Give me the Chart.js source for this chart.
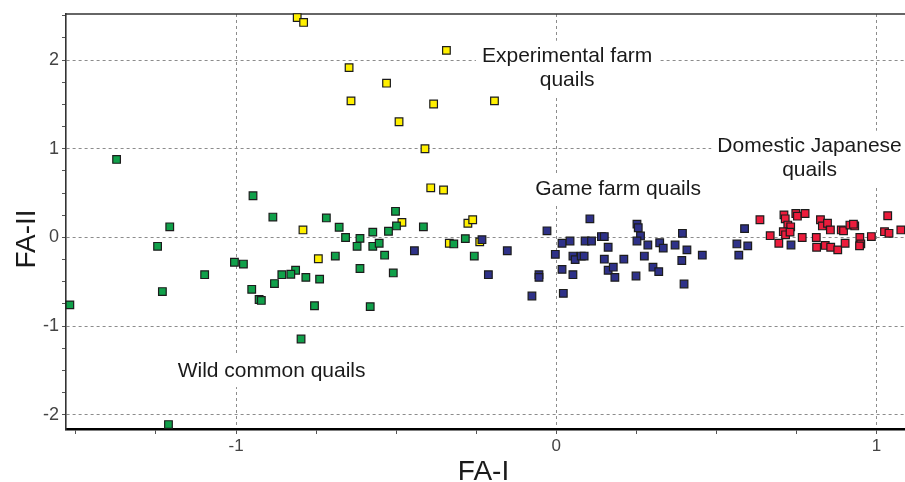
<!DOCTYPE html>
<html>
<head>
<meta charset="utf-8">
<script src="https://cdn.jsdelivr.net/npm/chart.js@4.4.0/dist/chart.umd.min.js"></script>
<style>
  html, body { margin: 0; padding: 0; background: #fff; }
  #wrap { width: 905px; height: 482px; position: relative; }
</style>
</head>
<body>
<div id="wrap"><canvas id="faChart"></canvas></div>
<script>
// FA-I / FA-II scores, one [FA-I, FA-II] pair per bird
const wildCommon = [
  [-1.373, 0.88], [-1.207, 0.12], [-1.245, -0.10], [-1.005, -0.28], [-1.098, -0.42],
  [-1.230, -0.61], [-1.519, -0.76], [-0.947, 0.47], [-0.885, 0.23], [-0.718, 0.22],
  [-0.678, 0.115], [-0.658, 0.0], [-0.613, -0.01], [-0.622, -0.10], [-0.573, 0.06],
  [-0.573, -0.10], [-0.553, -0.065], [-0.524, 0.07], [-0.502, 0.295], [-0.499, 0.13],
  [-0.415, 0.12], [-0.536, -0.20], [-0.690, -0.21], [-0.977, -0.30], [-0.613, -0.35],
  [-0.509, -0.40], [-0.814, -0.37], [-0.829, -0.415], [-0.857, -0.42], [-0.782, -0.45],
  [-0.739, -0.47], [-0.880, -0.52], [-0.951, -0.585], [-0.928, -0.70], [-0.921, -0.71],
  [-0.755, -0.77], [-0.581, -0.78], [-0.797, -1.145], [-0.320, -0.073], [-0.284, -0.013],
  [-0.256, -0.21], [-1.211, -2.11]
];
const experimentalFarm = [
  [-0.809, 2.48], [-0.789, 2.425], [-0.343, 2.11], [-0.647, 1.915], [-0.530, 1.74],
  [-0.641, 1.54], [-0.383, 1.505], [-0.193, 1.54], [-0.491, 1.305], [-0.410, 1.0],
  [-0.392, 0.56], [-0.352, 0.535], [-0.791, 0.085], [-0.482, 0.17], [-0.276, 0.16],
  [-0.261, 0.20], [-0.334, -0.065], [-0.239, -0.05], [-0.743, -0.24]
];
const gameFarm = [
  [-0.443, -0.15], [-0.232, -0.025], [-0.153, -0.15], [-0.212, -0.42], [-0.029, 0.075],
  [-0.054, -0.42], [-0.054, -0.45], [-0.076, -0.66], [-0.003, -0.19], [0.018, -0.065],
  [0.043, -0.04], [0.018, -0.36], [0.022, -0.63], [0.052, -0.21], [0.059, -0.25],
  [0.078, -0.21], [0.087, -0.21], [0.052, -0.42], [0.090, -0.04], [0.110, -0.04],
  [0.105, 0.21], [0.141, 0.01], [0.150, 0.01], [0.162, -0.11], [0.150, -0.245],
  [0.162, -0.37], [0.178, -0.335], [0.183, -0.45], [0.211, -0.245], [0.252, 0.15],
  [0.256, 0.11], [0.263, 0.017], [0.252, -0.04], [0.286, -0.085], [0.275, -0.21],
  [0.249, -0.435], [0.323, -0.06], [0.334, -0.12], [0.302, -0.335], [0.320, -0.385],
  [0.371, -0.085], [0.394, 0.047], [0.408, -0.14], [0.392, -0.26], [0.399, -0.525],
  [0.456, -0.20], [0.588, 0.10], [0.564, -0.073], [0.570, -0.20], [0.598, -0.095],
  [0.733, -0.085]
];
const domesticJapanese = [
  [0.636, 0.20], [0.668, 0.02], [0.695, -0.065], [0.711, 0.255], [0.715, 0.21],
  [0.723, 0.14], [0.732, 0.12], [0.709, 0.065], [0.716, 0.03], [0.730, 0.06],
  [0.748, 0.27], [0.753, 0.24], [0.777, 0.27], [0.768, 0.0], [0.812, 0.0],
  [0.813, -0.11], [0.825, 0.20], [0.831, 0.13], [0.847, 0.16], [0.856, 0.085],
  [0.840, -0.09], [0.857, -0.11], [0.879, -0.14], [0.890, 0.085], [0.897, 0.075],
  [0.917, 0.14], [0.932, 0.13], [0.928, 0.15], [0.902, -0.065], [0.948, 0.0],
  [0.951, -0.073], [0.947, -0.095], [0.984, 0.01], [1.025, 0.065], [1.039, 0.047],
  [1.035, 0.245], [1.076, 0.085]
];

const xTickLabels = [-1, 0, 1];
const yTickLabels = [-2, -1, 0, 1, 2];

// group names written in the plot, and where they sit (FA-I, FA-II of first baseline)
const groupNames = [
  ['Experimental farm', 'quails'],
  ['Domestic Japanese', 'quails'],
  ['Game farm quails'],
  ['Wild common quails']
];
const groupSpots = [[0.034, 1.982], [0.791, 0.967], [0.193, 0.479], [-0.889, -1.569]];

const labelFont = '"Liberation Sans", Arial, sans-serif';

const groupLabels = {
  id: 'groupLabels',
  beforeDatasetsDraw(chart) {
    const {ctx, chartArea, scales} = chart;
    ctx.save();
    // top frame line
    ctx.strokeStyle = '#333';
    ctx.lineWidth = 1.6;
    ctx.beginPath();
    ctx.moveTo(chartArea.left, chartArea.top);
    ctx.lineTo(chartArea.right, chartArea.top);
    ctx.stroke();

    ctx.font = '21px ' + labelFont;
    ctx.textAlign = 'center';
    ctx.textBaseline = 'alphabetic';
    groupNames.forEach((lines, i) => {
      const px = scales.x.getPixelForValue(groupSpots[i][0]);
      const py = scales.y.getPixelForValue(groupSpots[i][1]);
      const w = Math.max(...lines.map(t => ctx.measureText(t).width));
      const top = py - 15 - 6;
      const bottom = py + (lines.length - 1) * 24.3 + 4.5 + 6;
      ctx.fillStyle = '#fff';
      ctx.fillRect(px - w / 2 - 6, top, w + 12, bottom - top);
      ctx.fillStyle = '#1a1a1a';
      lines.forEach((t, k) => ctx.fillText(t, px, py + k * 24.3));
    });
    ctx.restore();
  },
  afterDraw(chart) {
    const ctx = chart.ctx;
    ctx.save();
    ctx.fillStyle = '#1a1a1a';
    ctx.font = '28px ' + labelFont;
    ctx.textAlign = 'center';
    ctx.textBaseline = 'alphabetic';
    ctx.fillText('FA-I', 483.5, 480);
    ctx.translate(34.5, 239);
    ctx.rotate(-Math.PI / 2);
    ctx.fillText('FA-II', 0, 0);
    ctx.restore();
  }
};

function groupSet(label, points, color) {
  return {
    label: label,
    data: points,
    pointStyle: 'rect',
    pointRadius: 5.4,
    pointHoverRadius: 5.4,
    backgroundColor: color,
    borderColor: '#1c1c1c',
    borderWidth: 1.2,
    clip: false
  };
}

const ctx = document.getElementById('faChart').getContext('2d');
const faChart = new Chart(ctx, {
  type: 'scatter',
  data: {
    datasets: [
      groupSet('Domestic Japanese quails', domesticJapanese, '#ec1c3c'),
      groupSet('Game farm quails', gameFarm, '#2e3188'),
      groupSet('Wild common quails', wildCommon, '#10a04a'),
      groupSet('Experimental farm quails', experimentalFarm, '#fff000')
    ]
  },
  options: {
    responsive: true,
    maintainAspectRatio: false,
    animation: false,
    layout: { autoPadding: false, padding: { top: 14, left: 0, right: 0, bottom: 0 } },
    plugins: {
      legend: { display: false },
      tooltip: { enabled: false }
    },
    scales: {
      x: {
        type: 'linear',
        min: -1.531,
        max: 1.089,
        afterFit: s => { s.height = 53; s.paddingLeft = 0; s.paddingRight = 0; },
        ticks: {
          stepSize: 0.25,
          includeBounds: false,
          autoSkip: false,
          maxRotation: 0,
          padding: 2,
          color: '#444',
          font: { family: labelFont, size: 17 },
          callback: v => xTickLabels.includes(v) ? String(v) : ''
        },
        grid: {
          color: c => (c.tick && xTickLabels.includes(c.tick.value)) ? '#8c8c8c' : 'rgba(0,0,0,0)',
          tickColor: '#555',
          tickLength: 5,
          lineWidth: 1
        },
        border: { color: '#000', width: 2.6, dash: [3, 3] }
      },
      y: {
        type: 'linear',
        min: -2.16,
        max: 2.52,
        afterFit: s => { s.width = 66; s.paddingTop = 0; s.paddingBottom = 0; },
        ticks: {
          stepSize: 0.25,
          includeBounds: false,
          autoSkip: false,
          padding: 3,
          color: '#444',
          font: { family: labelFont, size: 18 },
          callback: v => yTickLabels.includes(v) ? String(v) : ''
        },
        grid: {
          color: c => (c.tick && yTickLabels.includes(c.tick.value)) ? '#8c8c8c' : 'rgba(0,0,0,0)',
          tickColor: '#555',
          tickLength: 4,
          lineWidth: 1
        },
        border: { color: '#333', width: 1.6, dash: [3, 3] }
      }
    }
  },
  plugins: [groupLabels]
});
</script>
</body>
</html>
